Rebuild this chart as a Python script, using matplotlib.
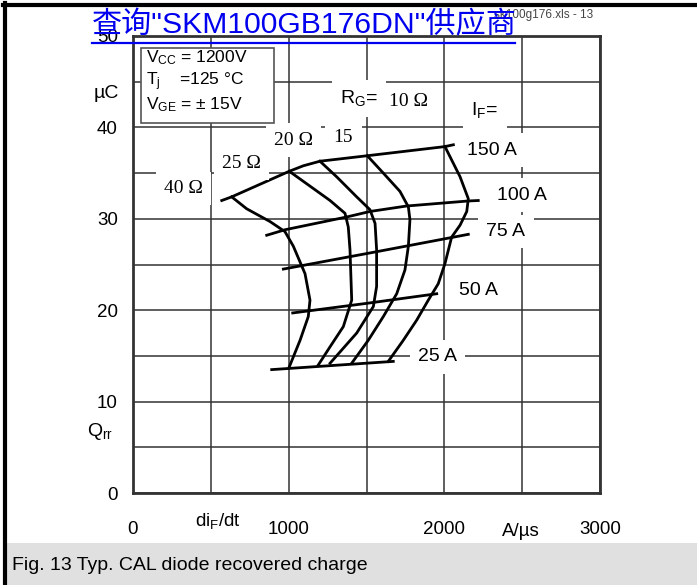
import numpy as np
import matplotlib.pyplot as plt
from matplotlib.patches import Rectangle
from matplotlib.lines import Line2D

plt.rcParams['font.family'] = ['Liberation Sans', 'DejaVu Sans']
plt.rcParams['mathtext.default'] = 'regular'

W, H = 697, 585

# forward current curves, x in A/us, y in uC
if_labels = ['150 A', '100 A', '75 A', '50 A', '25 A']
if_x = [
    [570, 634, 1004, 1094, 1201, 1505, 2004, 2058],
    [859, 976, 1373, 1522, 1758, 2154, 2218],
    [966, 1565, 2154],
    [1026, 1501, 1951],
    [891, 1672],
]
if_y = [
    [32.0, 32.4, 35.2, 35.8, 36.3, 36.9, 37.9, 38.1],
    [28.2, 28.8, 30.2, 30.8, 31.4, 31.95, 32.0],
    [24.5, 26.4, 28.3],
    [19.7, 20.75, 21.8],
    [13.5, 14.4],
]
if_label_pos = [(2303, 37.5), (2496, 32.6), (2396, 28.6), (2219, 22.2), (1956, 14.9)]

# gate resistor curves
rg_labels = ['40 Ω', '25 Ω', '20 Ω', '15', '10 Ω']
rg_x = [
    [634, 730, 880, 976, 1030, 1105, 1137, 1126, 1073, 1004],
    [1004, 1094, 1266, 1362, 1383, 1394, 1405, 1351, 1266, 1190],
    [1201, 1308, 1437, 1522, 1555, 1565, 1565, 1544, 1437, 1266],
    [1505, 1608, 1715, 1769, 1779, 1769, 1747, 1694, 1608, 1511, 1405],
    [2004, 2101, 2154, 2144, 2101, 2047, 2004, 1961, 1897, 1822, 1736, 1640],
]
rg_y = [
    [32.4, 31.1, 29.7, 28.6, 27.0, 24.0, 21.1, 19.3, 16.7, 13.8],
    [35.2, 34.1, 32.0, 30.6, 29.1, 26.6, 21.1, 18.2, 16.0, 14.0],
    [36.3, 34.6, 32.4, 31.0, 29.5, 26.6, 22.6, 20.4, 17.5, 14.2],
    [36.9, 35.0, 33.0, 31.3, 29.9, 27.0, 24.4, 21.8, 19.3, 16.7, 14.2],
    [37.9, 34.6, 32.2, 30.8, 29.3, 28.0, 25.1, 22.9, 21.1, 18.9, 16.7, 14.4],
]
rg_label_pos = [(324, 33.3), (697, 36.1), (1031, 38.6), (1352, 38.9), (1767, 42.8)]

x_ticks = [0, 1000, 2000, 3000]
y_ticks = [0, 10, 20, 30, 40, 50]
conditions = [r'V$_{CC}$ = 1200V', r'T$_{j}$    =125 °C', r'V$_{GE}$ = ± 15V']


def fx(px):
    return px / W


def fy(py):
    return 1 - py / H


fig = plt.figure(figsize=(W / 100, H / 100), dpi=100)
ax = fig.add_axes([fx(133), fy(493), fx(600) - fx(133), fy(36) - fy(493)])
ax.set_xlim(0, 3000)
ax.set_ylim(0, 50)

ax.set_xticks(x_ticks)
ax.set_xticks([500, 1500, 2500], minor=True)
ax.set_yticks(y_ticks)
ax.set_yticks(np.arange(5, 50, 10), minor=True)
ax.set_xticklabels([str(v) for v in x_ticks], fontsize=13.5)
ax.set_yticklabels([str(v) for v in y_ticks], fontsize=13.5)
ax.tick_params(axis='both', which='both', length=0)
ax.tick_params(axis='x', pad=20)
ax.tick_params(axis='y', pad=11)
ax.grid(True, which='both', color='#333333', linewidth=1.1)
ax.set_axisbelow(True)
for s in ax.spines.values():
    s.set_linewidth(2.0)
    s.set_color('#333333')

for xs, ys in zip(if_x, if_y):
    ax.plot(xs, ys, color='black', lw=2.0, solid_joinstyle='round', zorder=3)
for xs, ys in zip(rg_x, rg_y):
    ax.plot(xs, ys, color='black', lw=2.0, solid_joinstyle='round', zorder=3)

box = dict(facecolor='white', edgecolor='none', pad=6)
for lab, (x, y) in zip(if_labels, if_label_pos):
    ax.text(x, y, lab, fontsize=14, ha='center', va='center', bbox=box, zorder=4)
for lab, (x, y) in zip(rg_labels, rg_label_pos):
    ax.text(x, y, lab, fontsize=14, family='Liberation Serif',
            ha='center', va='center', bbox=box, zorder=4)
ax.text(1330, 43.2, r'R$_{G}$=', fontsize=14, ha='left', va='center', bbox=box, zorder=4)
ax.text(2261, 41.9, r'I$_{F}$=', fontsize=14, ha='center', va='center', bbox=box, zorder=4)

# test conditions box
ax.add_patch(Rectangle((51, 40.5), 855, 8.2, facecolor='white',
                       edgecolor='#555555', lw=1.2, zorder=4))
for i, t in enumerate(conditions):
    ax.text(84, 47.6 - 2.55 * i, t, fontsize=12.5, ha='left', va='center', zorder=5)

# axis labels
fig.text(fx(106), fy(93), 'µC', fontsize=14, ha='center', va='center')
fig.text(fx(100), fy(432), r'Q$_{rr}$', fontsize=14, ha='center', va='center')
fig.text(fx(218), fy(521), r'di$_{F}$/dt', fontsize=13.5, ha='center', va='center')
fig.text(fx(521), fy(531), 'A/µs', fontsize=13.5, ha='center', va='center')

# caption band and page borders
fig.patches.append(Rectangle((fx(7), 0), 1 - fx(7), fy(543), transform=fig.transFigure,
                             facecolor='#e0e0e0', edgecolor='none', zorder=0))
fig.text(fx(12), fy(565), 'Fig. 13 Typ. CAL diode recovered charge', fontsize=14,
         ha='left', va='center')
fig.lines.append(Line2D([fx(5), fx(5)], [0, fy(3)], transform=fig.transFigure,
                        color='black', lw=3))
fig.lines.append(Line2D([fx(3), 1], [fy(5), fy(5)], transform=fig.transFigure,
                        color='black', lw=3))

# file reference and supplier link at the top
fig.text(fx(593), fy(15), 'sk100g176.xls - 13', fontsize=8.5, color='#444444',
         ha='right', va='center')
fig.text(fx(92), fy(25), '查询"SKM100GB176DN"供应商', fontsize=21.7, color='#0000ee',
         family=['Liberation Sans', 'Noto Sans CJK SC'], ha='left', va='center', zorder=6)
fig.lines.append(Line2D([fx(92), fx(515)], [fy(43), fy(43)], transform=fig.transFigure,
                        color='#0000ee', lw=1.6, zorder=6))

fig.savefig('out.png', dpi=100)
